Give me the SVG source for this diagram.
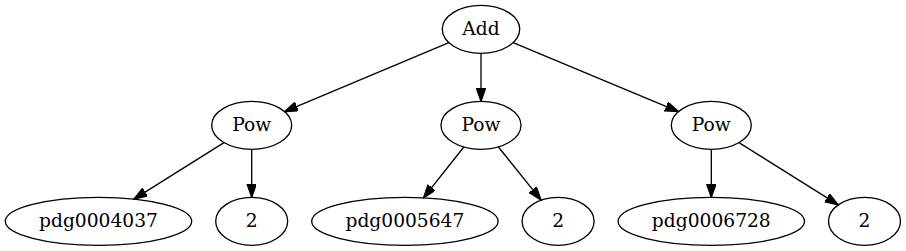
<svg xmlns="http://www.w3.org/2000/svg" width="906" height="251" viewBox="0 0 906 251">
<style>
.n ellipse{fill:none;stroke:#000;stroke-width:1.33}
.n text{font-family:"DejaVu Serif","Liberation Serif",serif;font-size:18.67px;text-anchor:middle;fill:#000}
#edges line{stroke:#000;stroke-width:1.33;marker-end:url(#ah)}
</style>
<defs>
<marker id="ah" markerUnits="userSpaceOnUse" markerWidth="14" markerHeight="10" refX="13.33" refY="4.67" orient="auto" viewBox="0 0 14 10">
<path d="M0,0 L13.33,4.67 L0,9.33 Z" fill="#000" stroke="#000" stroke-width="1.33"/>
</marker>
</defs>
<rect width="906" height="251" fill="#fff"/>
<g id="edges">
<line x1="448.9" y1="42.7" x2="284.5" y2="111.6"/>
<line x1="481" y1="53.3" x2="481" y2="101.3"/>
<line x1="513.1" y1="42.7" x2="678.5" y2="111.6"/>
<line x1="224" y1="142.6" x2="133.9" y2="199.1"/>
<line x1="251.7" y1="149.3" x2="251.7" y2="197.3"/>
<line x1="463.8" y1="147" x2="423.5" y2="197.8"/>
<line x1="498.4" y1="147" x2="541.1" y2="200.1"/>
<line x1="711.3" y1="149.3" x2="711.3" y2="197.3"/>
<line x1="739" y1="142.6" x2="838.3" y2="204.9"/>
</g>
<g id="add" class="n"><ellipse cx="481" cy="29.3" rx="38.7" ry="24"/><text x="481" y="35">Add</text></g>
<g id="pow1" class="n"><ellipse cx="251.7" cy="125.3" rx="40" ry="24"/><text x="251.7" y="131">Pow</text></g>
<g id="pow2" class="n"><ellipse cx="481" cy="125.3" rx="40" ry="24"/><text x="481" y="131">Pow</text></g>
<g id="pow3" class="n"><ellipse cx="711.3" cy="125.3" rx="40" ry="24"/><text x="711.3" y="131">Pow</text></g>
<g id="pdg0004037" class="n"><ellipse cx="98.5" cy="221.3" rx="93.2" ry="24"/><text x="98.5" y="227">pdg0004037</text></g>
<g id="two1" class="n"><ellipse cx="251.7" cy="221.3" rx="36" ry="24"/><text x="251.7" y="227">2</text></g>
<g id="pdg0005647" class="n"><ellipse cx="404.9" cy="221.3" rx="93.2" ry="24"/><text x="404.9" y="227">pdg0005647</text></g>
<g id="two2" class="n"><ellipse cx="558.1" cy="221.3" rx="36" ry="24"/><text x="558.1" y="227">2</text></g>
<g id="pdg0006728" class="n"><ellipse cx="711.3" cy="221.3" rx="93.2" ry="24"/><text x="711.3" y="227">pdg0006728</text></g>
<g id="two3" class="n"><ellipse cx="864.5" cy="221.3" rx="36" ry="24"/><text x="864.5" y="227">2</text></g>
</svg>
